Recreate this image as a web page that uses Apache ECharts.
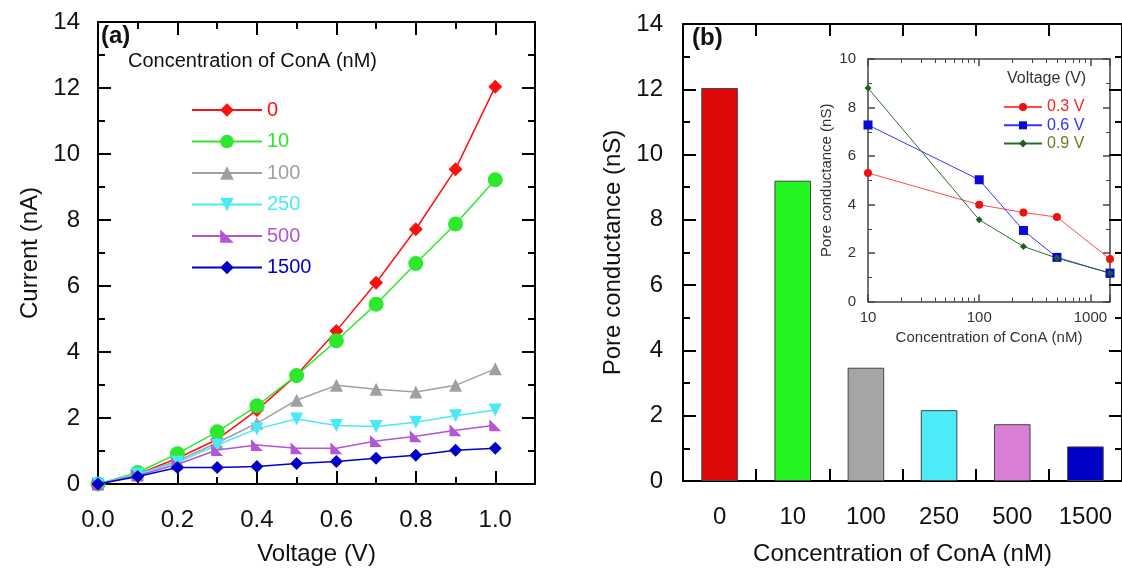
<!DOCTYPE html>
<html>
<head>
<meta charset="utf-8">
<script src="https://cdn.jsdelivr.net/npm/echarts@6/dist/echarts.min.js"></script>
<style>html,body{margin:0;padding:0;background:#fff}#c{width:1122px;height:571px}</style>
</head>
<body>
<div id="c"></div>
<script>
// ---------- data ----------
const voltage = [0.0, 0.1, 0.2, 0.3, 0.4, 0.5, 0.6, 0.7, 0.8, 0.9, 1.0];
const concNames = ['0', '10', '100', '250', '500', '1500'];
const current_0    = [0, 0.30, 0.78, 1.35, 2.24, 3.30, 4.64, 6.10, 7.72, 9.54, 12.04];
const current_10   = [0, 0.35, 0.92, 1.58, 2.37, 3.29, 4.34, 5.45, 6.68, 7.88, 9.22];
const current_100  = [0, 0.30, 0.70, 1.25, 1.84, 2.54, 2.99, 2.87, 2.79, 2.99, 3.49];
const current_250  = [0, 0.30, 0.66, 1.18, 1.67, 1.97, 1.77, 1.74, 1.87, 2.07, 2.24];
const current_500  = [0, 0.26, 0.60, 1.03, 1.18, 1.08, 1.08, 1.30, 1.45, 1.63, 1.78];
const current_1500 = [0, 0.23, 0.50, 0.50, 0.53, 0.62, 0.68, 0.78, 0.87, 1.02, 1.08];
const barValues = [12.04, 9.20, 3.47, 2.17, 1.74, 1.06];
const insetConc = [10, 100, 250, 500, 1500];
const g_03 = [5.30, 3.99, 3.67, 3.48, 1.75];
const g_06 = [7.28, 5.02, 2.93, 1.82, 1.17];
const g_09 = [8.80, 3.37, 2.27, 1.79, 1.17];
const insetNames = ['0.3 V', '0.6 V', '0.9 V'];
const insetMajorLabels = [10, 100, 1000];

// ---------- styles ----------
const FONT = 'Liberation Sans, Arial, sans-serif';
const lineColors = ['#ff1010', '#2ee82e', '#a0a0a0', '#4ae8f8', '#b455d6', '#0000c8'];
const symbols = ['diamond', 'circle', 'triangle', 'triangle', 'path://M0,0 L0,10 L10,10 Z', 'diamond'];
const symbolSizes = [14, 15, 13, 13, 12, 13];
const symbolRotates = [0, 0, 0, 180, 0, 0];
const barColors = ['#dd0808', '#22f522', '#a5a5a5', '#4deaf8', '#da7fd6', '#0000c8'];
const insetLine = ['#ff4a4a', '#3535ff', '#2b6e2b'];
const insetMark = ['#ee1111', '#0a0ad8', '#1e5e1e'];
const insetText = ['#ff2020', '#3030ff', '#6b7a25'];
const currents = [current_0, current_10, current_100, current_250, current_500, current_1500];

const pair = (xs, ys) => xs.map((x, i) => [x, ys[i]]);

// minor tick positions (log10 space) for the inset's log axis: 20..90, 200..900, 2000.. up to max
const insetMin = 10, insetMax = 1500;
const logMinor = [];
insetMajorLabels.forEach(d => { for (let k = 2; k <= 9; k++) if (d * k <= insetMax) logMinor.push(Math.log10(d * k)); });

function valAxis(extra) {
  return Object.assign({
    type: 'value',
    axisLine: {show: true, onZero: false, lineStyle: {color: '#000', width: 2}},
    axisTick: {show: true, inside: true, length: 13, lineStyle: {color: '#000', width: 2}},
    axisLabel: {show: false},
    splitLine: {show: false}
  }, extra);
}

const mainLabel = {show: true, color: '#111', fontFamily: FONT, fontSize: 24};
const mainName = {color: '#111', fontFamily: FONT, fontSize: 24};
const insetAxisLine = {show: true, onZero: false, lineStyle: {color: '#444', width: 1.5}};
const insetMajorTick = {show: true, inside: true, length: 7, lineStyle: {color: '#444', width: 1.5}};

const xAxes = [
  // grid 0 (left plot)
  valAxis({gridIndex: 0, position: 'bottom', min: 0, max: 1.1, interval: 0.2,
    axisLabel: Object.assign({}, mainLabel, {margin: 24,
      formatter: v => (Math.round(v * 10) % 2 === 0 && v < 1.05) ? v.toFixed(1) : ''}),
    name: 'Voltage (V)', nameLocation: 'middle', nameGap: 58, nameTextStyle: mainName}),
  valAxis({gridIndex: 0, position: 'bottom', min: 0, max: 1.1, interval: 0.1,
    axisLine: {show: false, onZero: false}, axisTick: {show: true, inside: true, length: 7, lineStyle: {color: '#000', width: 2}}}),
  valAxis({gridIndex: 0, position: 'top', min: 0, max: 1.1, interval: 0.2}),
  valAxis({gridIndex: 0, position: 'top', min: 0, max: 1.1, interval: 0.1,
    axisLine: {show: false, onZero: false}, axisTick: {show: true, inside: true, length: 7, lineStyle: {color: '#000', width: 2}}}),
  // grid 1 (bar plot)
  {type: 'category', gridIndex: 1, position: 'bottom', data: concNames, boundaryGap: true,
    axisLine: {show: true, onZero: false, lineStyle: {color: '#000', width: 2}},
    axisTick: {show: true, inside: true, length: 12, interval: 0, lineStyle: {color: '#000', width: 2}},
    axisLabel: Object.assign({}, mainLabel, {margin: 24, interval: 0}),
    name: 'Concentration of ConA (nM)', nameLocation: 'middle', nameGap: 61, nameTextStyle: mainName},
  {type: 'category', gridIndex: 1, position: 'top', data: concNames, boundaryGap: true,
    axisLine: {show: true, onZero: false, lineStyle: {color: '#000', width: 2}},
    axisTick: {show: true, inside: true, length: 12, interval: 0, lineStyle: {color: '#000', width: 2}},
    axisLabel: {show: false}},
  // grid 2 (inset)
  {type: 'log', logBase: 10, gridIndex: 2, position: 'bottom', min: insetMin, max: insetMax,
    axisLine: insetAxisLine, axisTick: insetMajorTick,
    axisLabel: {show: true, color: '#333', fontFamily: FONT, fontSize: 15, margin: 9,
      formatter: v => (insetMajorLabels.indexOf(Math.round(v)) >= 0 ? String(Math.round(v)) : '')},
    splitLine: {show: false},
    name: 'Concentration of ConA (nM)', nameLocation: 'middle', nameGap: 29,
    nameTextStyle: {color: '#333', fontFamily: FONT, fontSize: 15}},
  {type: 'log', logBase: 10, gridIndex: 2, position: 'top', min: insetMin, max: insetMax,
    axisLine: insetAxisLine, axisTick: insetMajorTick,
    axisLabel: {show: false}, splitLine: {show: false}},
  // minor ticks of the inset's log axis (drawn on a log10-space helper axis)
  {type: 'value', gridIndex: 2, position: 'bottom', min: Math.log10(insetMin), max: Math.log10(insetMax),
    axisLine: {show: false, onZero: false}, axisLabel: {show: false}, splitLine: {show: false},
    axisTick: {show: true, inside: true, length: 4, customValues: logMinor, lineStyle: {color: '#444', width: 1}}},
  {type: 'value', gridIndex: 2, position: 'top', min: Math.log10(insetMin), max: Math.log10(insetMax),
    axisLine: {show: false, onZero: false}, axisLabel: {show: false}, splitLine: {show: false},
    axisTick: {show: true, inside: true, length: 4, customValues: logMinor, lineStyle: {color: '#444', width: 1}}}
];

const minorMain = {show: true, splitNumber: 2, length: 7, lineStyle: {color: '#000', width: 2}};
const insetMinorY = {show: true, splitNumber: 2, length: 4, lineStyle: {color: '#444', width: 1}};
const yAxes = [
  valAxis({gridIndex: 0, position: 'left', min: 0, max: 14, interval: 2, minorTick: minorMain,
    axisLabel: Object.assign({}, mainLabel, {margin: 18}),
    name: 'Current (nA)', nameLocation: 'middle', nameGap: 56, nameTextStyle: mainName}),
  valAxis({gridIndex: 0, position: 'right', min: 0, max: 14, interval: 2, minorTick: minorMain}),
  valAxis({gridIndex: 1, position: 'left', min: 0, max: 14, interval: 2, minorTick: minorMain,
    axisLabel: Object.assign({}, mainLabel, {margin: 20}),
    name: 'Pore conductance (nS)', nameLocation: 'middle', nameGap: 58, nameTextStyle: mainName}),
  valAxis({gridIndex: 1, position: 'right', min: 0, max: 14, interval: 2, minorTick: minorMain}),
  valAxis({gridIndex: 2, position: 'left', min: 0, max: 10, interval: 2,
    axisLine: insetAxisLine, axisTick: insetMajorTick, minorTick: insetMinorY,
    axisLabel: {show: true, color: '#333', fontFamily: FONT, fontSize: 15, margin: 12},
    name: 'Pore conductance (nS)', nameLocation: 'middle', nameGap: 34,
    nameTextStyle: {color: '#333', fontFamily: FONT, fontSize: 15}}),
  valAxis({gridIndex: 2, position: 'right', min: 0, max: 10, interval: 2,
    axisLine: insetAxisLine, axisTick: insetMajorTick, minorTick: insetMinorY})
];

const series = [];
concNames.forEach((nm, i) => {
  series.push({
    name: nm, type: 'line', xAxisIndex: 0, yAxisIndex: 0,
    data: pair(voltage, currents[i]),
    symbol: symbols[i], symbolSize: symbolSizes[i], symbolRotate: symbolRotates[i],
    lineStyle: {color: lineColors[i], width: 1.5},
    itemStyle: {color: lineColors[i]},
    animation: false, z: 3 + i
  });
});
series.push({
  name: 'Pore conductance', type: 'bar', xAxisIndex: 4, yAxisIndex: 2,
  barWidth: '50%',
  data: barValues.map((v, i) => ({value: v, itemStyle: {color: barColors[i]}})),
  itemStyle: {borderColor: '#444', borderWidth: 1},
  animation: false
});
const insetData = [g_03, g_06, g_09];
const insetSym = ['circle', 'rect', 'diamond'];
const insetSymSize = [8, 9, 7];
insetNames.forEach((nm, i) => {
  series.push({
    name: nm, type: 'line', xAxisIndex: 6, yAxisIndex: 4,
    data: pair(insetConc, insetData[i]),
    symbol: insetSym[i], symbolSize: insetSymSize[i],
    lineStyle: {color: insetLine[i], width: 1},
    itemStyle: {color: insetMark[i]},
    animation: false
  });
});

const option = {
  backgroundColor: '#fff',
  animation: false,
  textStyle: {fontFamily: FONT},
  grid: [
    {left: 98, top: 22, width: 437, height: 468},
    {left: 683, top: 24, width: 445, height: 460},
    {left: 868, top: 59, width: 242, height: 242.5}
  ],
  xAxis: xAxes,
  yAxis: yAxes,
  title: [
    {text: '(a)', left: 101, top: 24, padding: 0, textStyle: {fontFamily: FONT, fontSize: 24, fontWeight: 'bold', color: '#111'}},
    {text: '(b)', left: 692, top: 26, padding: 0, textStyle: {fontFamily: FONT, fontSize: 24, fontWeight: 'bold', color: '#111'}},
    {text: 'Concentration of ConA (nM)', left: 128, top: 51, padding: 0, textStyle: {fontFamily: FONT, fontSize: 20, fontWeight: 'normal', color: '#111'}},
    {text: 'Voltage (V)', left: 1007, top: 71, padding: 0, textStyle: {fontFamily: FONT, fontSize: 16, fontWeight: 'normal', color: '#333'}}
  ],
  legend: [
    {orient: 'vertical', left: 191, top: 100, padding: 0, itemWidth: 70, itemHeight: 17, itemGap: 11.5, itemTextGap: 8,
      selectedMode: false,
      textStyle: {fontFamily: FONT, fontSize: 20, lineHeight: 20},
      data: concNames.map((n, i) => ({name: n, textStyle: {color: lineColors[i]}}))},
    {orient: 'vertical', left: 1003, top: 99, padding: 0, itemWidth: 38, itemHeight: 10, itemGap: 2.3, itemTextGap: 1,
      selectedMode: false,
      textStyle: {fontFamily: FONT, fontSize: 16, lineHeight: 16},
      data: insetNames.map((n, i) => ({name: n, textStyle: {color: insetText[i]}}))}
  ],
  series: series
};

const chart = echarts.init(document.getElementById('c'), null, {renderer: 'canvas'});
chart.setOption(option);
</script>
</body>
</html>
